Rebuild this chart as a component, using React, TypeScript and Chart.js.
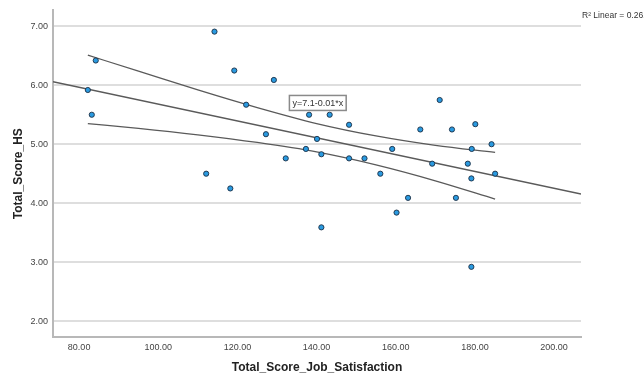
import React, { useEffect, useRef } from "react";
import { Chart, registerables } from "chart.js";

Chart.register(...registerables);

// ---- data ----
const jobSatisfaction = [82.2, 83.2, 84.2, 112.1, 114.2, 118.2, 119.2, 122.2, 127.2, 129.2, 132.2, 137.3, 138.1, 140.1, 141.2, 141.2, 143.3, 148.2, 148.2, 152.1, 156.1, 159.1, 160.2, 163.1, 166.2, 169.2, 171.1, 174.2, 175.2, 178.2, 179.2, 179.1, 179.1, 180.1, 184.2, 185.1];
const scoreHS = [5.92, 5.5, 6.42, 4.5, 6.91, 4.25, 6.25, 5.67, 5.17, 6.09, 4.76, 4.92, 5.5, 5.09, 4.83, 3.59, 5.5, 5.33, 4.76, 4.76, 4.5, 4.92, 3.84, 4.09, 5.25, 4.67, 5.75, 5.25, 4.09, 4.67, 4.92, 4.42, 2.92, 5.34, 5.0, 4.5];

const fitX = [73.4, 206.8];
const fitY = [6.06, 4.155];

const ciX = [82.2, 95, 110, 125, 140, 155, 170, 185.1];
const ciUpper = [6.51, 6.24, 5.92, 5.62, 5.35, 5.14, 4.98, 4.86];
const ciLower = [5.35, 5.27, 5.16, 5.03, 4.87, 4.65, 4.38, 4.07];

const xTicks = [80, 100, 120, 140, 160, 180, 200];
const yTicks = [2, 3, 4, 5, 6, 7];
const xRange = [73.4, 206.8];
const yRange = [1.73, 7.27];

const xTitle = "Total_Score_Job_Satisfaction";
const yTitle = "Total_Score_HS";
const equationText = "y=7.1-0.01*x";
const equationAt = [140.3, 5.7];
const r2Text = "R² Linear = 0.261";

const FONT = "'Liberation Sans', Arial, sans-serif";

const overlayPlugin = {
  id: "overlay",
  afterDatasetsDraw(chart: any) {
    const ctx = chart.ctx;
    const xs = chart.scales.x;
    const ys = chart.scales.y;
    const cx = xs.getPixelForValue(equationAt[0]);
    const cy = ys.getPixelForValue(equationAt[1]);
    ctx.save();
    ctx.font = `9px ${FONT}`;
    const w = ctx.measureText(equationText).width + 6;
    const h = 15;
    ctx.fillStyle = "#ffffff";
    ctx.fillRect(cx - w / 2, cy - h / 2, w, h);
    ctx.strokeStyle = "#8a8a8a";
    ctx.lineWidth = 1.5;
    ctx.strokeRect(cx - w / 2, cy - h / 2, w, h);
    ctx.fillStyle = "#333333";
    ctx.textAlign = "center";
    ctx.textBaseline = "middle";
    ctx.fillText(equationText, cx, cy + 0.5);
    ctx.restore();
  },
  afterDraw(chart: any) {
    const ctx = chart.ctx;
    ctx.save();
    ctx.font = `8.5px ${FONT}`;
    ctx.fillStyle = "#333333";
    ctx.textAlign = "left";
    ctx.textBaseline = "middle";
    ctx.fillText(r2Text, chart.chartArea.right + 1, 15.5);
    ctx.restore();
  },
};

export default function App() {
  const ref = useRef<HTMLCanvasElement | null>(null);

  useEffect(() => {
    if (!ref.current) return;
    const points = jobSatisfaction.map((x, i) => ({ x, y: scoreHS[i] }));
    const fit = fitX.map((x, i) => ({ x, y: fitY[i] }));
    const up = ciX.map((x, i) => ({ x, y: ciUpper[i] }));
    const lo = ciX.map((x, i) => ({ x, y: ciLower[i] }));
    const lineStyle = {
      type: "line" as const,
      borderColor: "#5a5a5a",
      borderWidth: 1.3,
      pointRadius: 0,
      fill: false,
      order: 2,
    };
    const chart = new Chart(ref.current, {
      type: "scatter",
      data: {
        datasets: [
          {
            data: points,
            backgroundColor: "#2a9ae0",
            borderColor: "#1c2f44",
            borderWidth: 0.9,
            pointRadius: 2.6,
            order: 0,
          } as any,
          { ...lineStyle, data: fit } as any,
          { ...lineStyle, data: up, cubicInterpolationMode: "monotone" } as any,
          { ...lineStyle, data: lo, cubicInterpolationMode: "monotone" } as any,
        ],
      },
      options: {
        responsive: false,
        animation: false,
        events: [],
        layout: { padding: { left: 0, right: 63, top: 8, bottom: 0 } },
        plugins: { legend: { display: false }, tooltip: { enabled: false } },
        scales: {
          x: {
            type: "linear",
            min: xRange[0],
            max: xRange[1],
            afterBuildTicks: (s: any) => {
              s.ticks = xTicks.map((v) => ({ value: v }));
            },
            afterFit: (s: any) => {
              s.height = 41;
            },
            grid: { drawOnChartArea: false, drawTicks: false },
            border: { display: true, color: "#b8b8b8", width: 2 },
            ticks: {
              autoSkip: false,
              maxRotation: 0,
              padding: 5,
              color: "#444444",
              font: { family: FONT, size: 9 },
              callback: (v: any) => Number(v).toFixed(2),
            },
            title: {
              display: true,
              text: xTitle,
              color: "#222222",
              font: { family: FONT, size: 12, weight: "bold" },
              padding: { top: 0, bottom: 3 },
            },
          },
          y: {
            type: "linear",
            min: yRange[0],
            max: yRange[1],
            afterBuildTicks: (s: any) => {
              s.ticks = yTicks.map((v) => ({ value: v }));
            },
            afterFit: (s: any) => {
              s.width = 53;
            },
            grid: { drawOnChartArea: true, drawTicks: false, color: "#dedede", lineWidth: 2 },
            border: { display: true, color: "#b8b8b8", width: 2 },
            ticks: {
              padding: 5,
              color: "#444444",
              font: { family: FONT, size: 9 },
              callback: (v: any) => Number(v).toFixed(2),
            },
            title: {
              display: true,
              text: yTitle,
              color: "#222222",
              font: { family: FONT, size: 12, weight: "bold" },
              padding: { top: 11, bottom: 0 },
            },
          },
        },
      } as any,
      plugins: [overlayPlugin],
    });
    return () => chart.destroy();
  }, []);

  return (
    <div style={{ position: "fixed", left: 0, top: 0, width: 644, height: 378, background: "#ffffff" }}>
      <canvas ref={ref} width={644} height={378} style={{ display: "block" }} />
    </div>
  );
}
